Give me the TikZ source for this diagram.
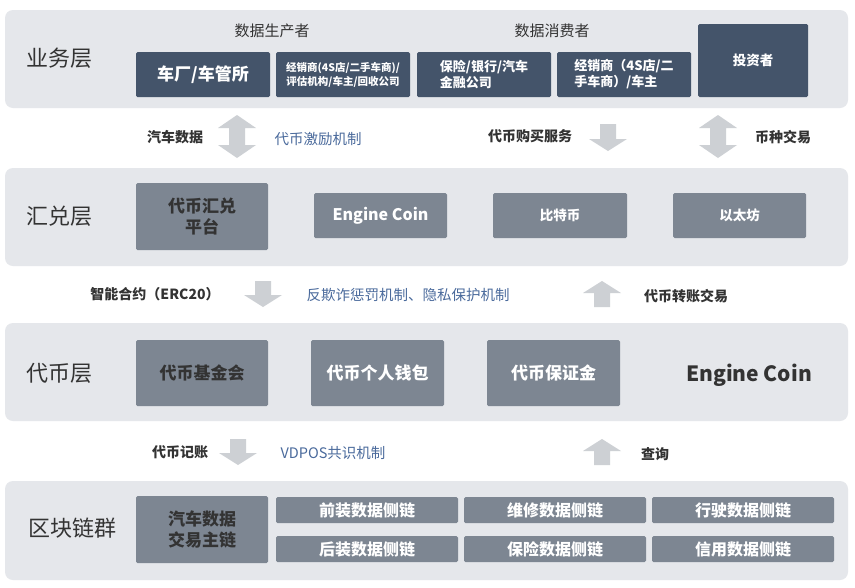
\documentclass[tikz,border=0pt]{standalone}
\usepackage{fontspec}
\setmainfont{Noto Sans CJK SC}
\begin{document}
\begin{tikzpicture}[x=1pt,y=-1pt,
 band/.style={fill=bandc,draw=none,rounded corners=8pt},
 dbox/.style={fill=darkc,draw=none,rounded corners=1.5pt,text=white,font=\bfseries\fontsize{16}{18}\selectfont,align=center,inner sep=0pt},
 gbox/.style={fill=grayc,draw=none,rounded corners=1.5pt,text=white,font=\bfseries\fontsize{16}{18}\selectfont,align=center,inner sep=0pt},
 layer/.style={text=txtc,font=\fontsize{22}{26}\selectfont},
 lbl/.style={text=txtc,font=\bfseries\fontsize{14}{16}\selectfont},
 blu/.style={text=bluc,font=\fontsize{14.5}{16}\selectfont},
 arr/.style={fill=arrc,draw=none}]
\definecolor{bandc}{HTML}{E5E7EB}
\definecolor{darkc}{HTML}{44546A}
\definecolor{grayc}{HTML}{7D8692}
\definecolor{txtc}{HTML}{333333}
\definecolor{bluc}{HTML}{4A6A9C}
\definecolor{arrc}{HTML}{CDD0D4}
\useasboundingbox (0,0) rectangle (855,587);
\fill[white] (0,0) rectangle (855,587);
\newcommand\downarr[3]{\fill[arrc] (#1-8,#2) -- (#1+8,#2) -- (#1+8,#3-12) -- (#1+19,#3-12) -- (#1,#3) -- (#1-19,#3-12) -- (#1-8,#3-12) -- cycle;}
\newcommand\uparr[3]{\fill[arrc] (#1-8,#3) -- (#1+8,#3) -- (#1+8,#2+12) -- (#1+19,#2+12) -- (#1,#2) -- (#1-19,#2+12) -- (#1-8,#2+12) -- cycle;}
\newcommand\duarr[3]{\fill[arrc] (#1,#2) -- (#1+19,#2+13) -- (#1+8,#2+13) -- (#1+8,#3-13) -- (#1+19,#3-13) -- (#1,#3) -- (#1-19,#3-13) -- (#1-8,#3-13) -- (#1-8,#2+13) -- (#1-19,#2+13) -- cycle;}
% bands
\fill[band] (5,10) rectangle (848,108);
\fill[band] (5,168) rectangle (848,266);
\fill[band] (5,323) rectangle (848,421);
\fill[band] (5,481) rectangle (848,580);
% layer 1
\node[layer] (l1) at (60,58) {业务层};
\node[text=txtc,font=\fontsize{15}{16}\selectfont] (p) at (272,31) {数据生产者};
\node[text=txtc,font=\fontsize{15}{16}\selectfont] (c) at (552,31) {数据消费者};
\node[dbox,minimum width=134,minimum height=45,font=\bfseries\fontsize{17}{18}\selectfont] (b1) at (203,74.5) {车厂/车管所};
\node[dbox,minimum width=134,minimum height=45,font=\bfseries\fontsize{10.5}{14}\selectfont] (b2) at (343,74.5) {经销商(4S店/二手车商)/\\评估机构/车主/回收公司};
\node[dbox,minimum width=134,minimum height=45,font=\bfseries\fontsize{13}{16}\selectfont,align=left] (b3) at (484,74.5) {保险/银行/汽车\\金融公司};
\node[dbox,minimum width=134,minimum height=45,font=\bfseries\fontsize{13}{16}\selectfont,align=left] (b4) at (624,74.5) {经销商（4S店/二\\手车商）/车主};
\node[dbox,minimum width=110,minimum height=73,font=\bfseries\fontsize{13.5}{16}\selectfont] (b5) at (753,60.5) {投资者};
% arrows 1-2
\duarr{237}{115}{158}
\node[lbl] (t1) at (175,137) {汽车数据};
\node[blu] (t2) at (318,139) {代币激励机制};
\downarr{608}{124}{151}
\node[lbl] (t3) at (530,136) {代币购买服务};
\duarr{718}{115}{158}
\node[lbl] (t4) at (783,137) {币种交易};
% layer 2
\node[layer] (l2) at (60,216) {汇兑层};
\node[gbox,minimum width=132,minimum height=67,text=txtc,font=\bfseries\fontsize{17}{21}\selectfont] (c1) at (202,216.5) {代币汇兑\\平台};
\node[gbox,minimum width=133,minimum height=45] (c2) at (380.5,215.5) {Engine Coin};
\node[gbox,minimum width=134,minimum height=45,font=\bfseries\fontsize{13.5}{16}\selectfont] (c3) at (560,215.5) {比特币};
\node[gbox,minimum width=133,minimum height=45,font=\bfseries\fontsize{13.5}{16}\selectfont] (c4) at (739.5,215.5) {以太坊};
% arrows 2-3
\node[lbl] (s1) at (155,294) {智能合约（ERC20）};
\downarr{263}{281}{307}
\node[blu] (s2) at (408,295) {反欺诈惩罚机制、隐私保护机制};
\uparr{602}{281}{307}
\node[lbl] (s3) at (686,296) {代币转账交易};
% layer 3
\node[layer] (l3) at (60,373) {代币层};
\node[gbox,minimum width=132,minimum height=66,text=txtc,font=\bfseries\fontsize{17}{20}\selectfont] (d1) at (202,373) {代币基金会};
\node[gbox,minimum width=133,minimum height=66,font=\bfseries\fontsize{17}{20}\selectfont] (d2) at (377.5,373) {代币个人钱包};
\node[gbox,minimum width=133,minimum height=66,font=\bfseries\fontsize{17}{20}\selectfont] (d3) at (553.5,373) {代币保证金};
\node[text=txtc,font=\bfseries\fontsize{21}{24}\selectfont] (d4) at (749,375) {Engine Coin};
% arrows 3-4
\node[lbl] (u1) at (180,452) {代币记账};
\downarr{238}{439}{465}
\node[blu] (u2) at (333,453) {VDPOS共识机制};
\uparr{602}{439}{465}
\node[lbl] (u3) at (655,454) {查询};
% layer 4
\node[layer] (l4) at (72,528) {区块链群};
\node[gbox,minimum width=132,minimum height=67,text=txtc,font=\bfseries\fontsize{17}{21}\selectfont] (e0) at (202,529.5) {汽车数据\\交易主链};
\foreach \n/\x/\y/\t in {e1/367/510/前装数据侧链,e2/555/510/维修数据侧链,e3/743/510/行驶数据侧链,e4/367/549/后装数据侧链,e5/555/549/保险数据侧链,e6/743/549/信用数据侧链}
  \node[gbox,minimum width=182,minimum height=26,font=\bfseries\fontsize{16}{18}\selectfont] (\n) at (\x,\y) {\t};
\end{tikzpicture}
\end{document}
